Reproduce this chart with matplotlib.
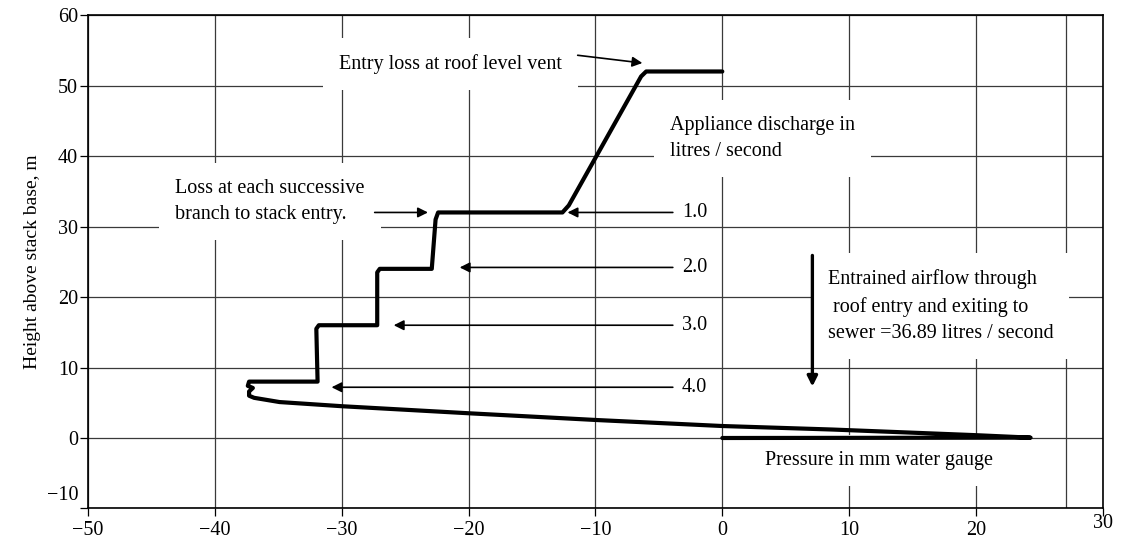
import matplotlib
matplotlib.use('Agg')
import matplotlib.pyplot as plt
from matplotlib.transforms import ScaledTranslation

plt.rcParams['font.family'] = ['Liberation Serif', 'DejaVu Serif']
plt.rcParams['font.size'] = 14.5

# pressure profile down the stack
pressure = [0, -6.0, -6.4, -12.1, -12.6, -22.4, -22.6, -22.9, -27.0, -27.2, -27.2,
            -31.8, -32.0, -31.9, -37.3, -37.4, -37.0, -37.3, -37.3, -36.9, -34.9,
            -29.9, -19.9, -9.9, 0, 8.7, 20, 24.3, 0]
height = [52, 52, 51.3, 33, 32, 32, 31, 24, 24, 23.5, 16,
          16, 15.5, 8, 8, 7.4, 7.1, 6.6, 6.0, 5.7, 5.1,
          4.5, 3.5, 2.55, 1.7, 1.2, 0.4, 0.05, 0]

# appliance discharges (l/s) and the branch each one enters at
discharge = ['1.0', '2.0', '3.0', '4.0']
branch_height = [32.0, 24.2, 16.0, 7.2]
branch_pressure = [-12.2, -20.7, -25.9, -30.8]

xticks = list(range(-50, 31, 10))
yticks = list(range(-10, 61, 10))
extra_gridline = 27.1

fig = plt.figure(figsize=(11.29, 5.41), dpi=100)
ax = fig.add_axes([0.0779, 0.0601, 0.899, 0.912])

ax.set_xlim(-50, 30)
ax.set_ylim(-10, 60)
ax.set_xticks(xticks)
ax.set_yticks(yticks)
ax.grid(True, color='#3a3a3a', lw=0.9, zorder=0.5)
ax.axvline(extra_gridline, color='#3a3a3a', lw=0.9, zorder=0.5)
ax.set_axisbelow(True)
for s in ax.spines.values():
    s.set_linewidth(1.2)
ax.tick_params(direction='out', length=6, width=0.9, labelsize=14.5)
ax.tick_params(axis='y', pad=1)
ax.tick_params(axis='x', pad=3)

# quirks of the original: -10 and 30 labels sit a bit higher
lab = ax.yaxis.get_major_ticks()[0].label1
lab.set_transform(lab.get_transform() + ScaledTranslation(0, 11 / 72, fig.dpi_scale_trans))
lab = ax.xaxis.get_major_ticks()[-1].label1
lab.set_transform(lab.get_transform() + ScaledTranslation(0, 5 / 72, fig.dpi_scale_trans))

ax.set_ylabel('Height above stack base, m', fontsize=14, labelpad=4)

ax.plot(pressure, height, color='black', lw=3.0, solid_joinstyle='round',
        solid_capstyle='round', zorder=4)

box = dict(boxstyle='square,pad=0.8', fc='white', ec='none')
ax.text(-30.2, 53.0, 'Entry loss at roof level vent', ha='left', va='center',
        bbox=box, zorder=2)
ax.text(-43.1, 33.5, 'Loss at each successive\nbranch to stack entry.', ha='left',
        va='center', linespacing=1.5, bbox=box, zorder=2)
ax.text(-4.1, 42.5, 'Appliance discharge in\nlitres / second', ha='left', va='center',
        linespacing=1.5, bbox=box, zorder=2)
ax.text(8.3, 18.7, 'Entrained airflow through\n roof entry and exiting to\nsewer =36.89 litres / second',
        ha='left', va='center', linespacing=1.5, bbox=box, zorder=2)
ax.text(3.4, -3.2, 'Pressure in mm water gauge', ha='left', va='center',
        bbox=dict(boxstyle='square,pad=0.8', fc='white', ec='none'), zorder=2)

head = dict(arrowstyle='-|>', color='black', lw=1.2, shrinkA=0, shrinkB=0,
            mutation_scale=15)
ax.annotate('', xy=(-6.3, 53.2), xytext=(-11.4, 54.3), arrowprops=head, zorder=5)
ax.annotate('', xy=(-23.2, 32.0), xytext=(-27.4, 32.0), arrowprops=head, zorder=5)

for lbl, yb, xb in zip(discharge, branch_height, branch_pressure):
    ax.annotate('', xy=(xb, yb), xytext=(-3.9, yb), arrowprops=head, zorder=5)
    ax.text(-2.2, yb, lbl, ha='center', va='center', fontsize=14.5, zorder=5)

ax.annotate('', xy=(7.1, 7.3), xytext=(7.1, 25.9),
            arrowprops=dict(arrowstyle='-|>', color='black', lw=2.4, shrinkA=0,
                            shrinkB=0, mutation_scale=15), zorder=5)

fig.savefig('out.png', dpi=100)
